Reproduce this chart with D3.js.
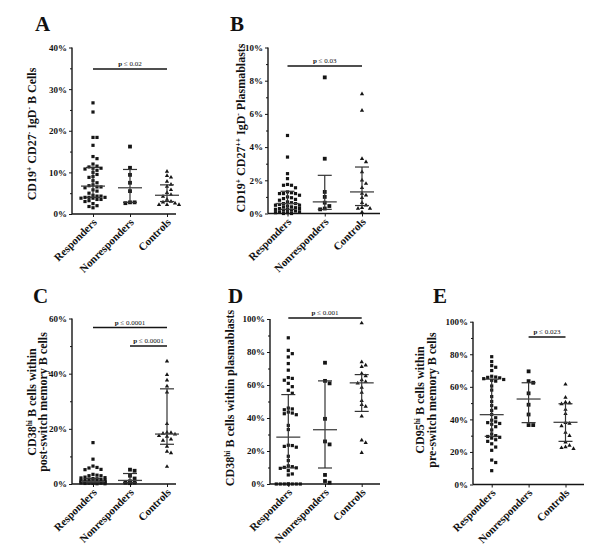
<!DOCTYPE html>
<html>
<head>
<meta charset="utf-8">
<script src="https://cdn.jsdelivr.net/npm/d3@7"></script>
<style>
  body { margin: 0; background: #fff; }
  svg { display: block; }
  text { font-family: "Liberation Serif", "Times New Roman", serif; fill: #111; }
</style>
</head>
<body>
<svg id="chart" width="600" height="550"></svg>
<script>
// ---------------- DATA ----------------
const categories = ["Responders", "Nonresponders", "Controls"];

// Panel A: CD19+ CD27- IgD- B cells (%)
const aResp = [26.7, 24.5, 18.4, 18.4, 16.5, 13.8, 13.3, 12.0, 11.5, 11.3, 11.0, 11.0, 10.8, 10.5, 10.0, 9.5, 9.0, 8.8, 8.0, 7.5, 7.0, 6.8, 6.5, 6.5, 6.3, 5.8, 5.5, 5.0, 4.5, 4.3, 4.3, 4.0, 4.0, 4.0, 3.8, 3.8, 3.5, 3.5, 3.2, 3.0, 2.5, 2.0, 1.8, 1.5];
const aNon = [16.2, 11.1, 9.4, 7.5, 5.5, 2.8, 2.8, 2.6];
const aCtrl = [10.2, 9.2, 8.8, 7.8, 7.1, 6.6, 5.8, 5.1, 4.6, 4.2, 3.5, 3.0, 2.8, 2.6, 2.2, 2.2, 2.2];
const aMedian = [6.7, 6.3, 4.5];
const aLow = [4.0, 2.8, 3.0];
const aHigh = [11.2, 10.7, 7.0];
const aTicks = [0, 10, 20, 30, 40];
const aMinor = [5, 15, 25, 35];
const aP = ["p ≤ 0.02"];

// Panel B: CD19+ CD27++ IgD- plasmablasts (%)
const bResp = [4.7, 3.4, 2.4, 2.1, 1.75, 1.7, 1.7, 1.55, 1.3, 1.25, 1.2, 1.2, 1.2, 1.1, 1.0, 0.95, 0.9, 0.85, 0.8, 0.7, 0.65, 0.6, 0.6, 0.55, 0.5, 0.5, 0.45, 0.4, 0.4, 0.35, 0.3, 0.3, 0.25, 0.25, 0.2, 0.2, 0.15, 0.1, 0.1, 0.05, 0.05, 0.0, 0.0];
const bNon = [8.2, 3.3, 1.3, 1.0, 0.65, 0.45, 0.3, 0.25];
const bCtrl = [7.2, 6.2, 3.3, 3.1, 2.5, 2.0, 1.8, 1.55, 1.2, 1.1, 0.95, 0.65, 0.5, 0.35, 0.3, 0.3, 0.08];
const bMedian = [0.6, 0.7, 1.3];
const bLow = [0.25, 0.25, 0.48];
const bHigh = [1.34, 2.3, 2.8];
const bTicks = [0, 2, 4, 6, 8, 10];
const bMinor = [1, 3, 5, 7, 9];
const bP = ["p ≤ 0.03"];

// Panel C: CD38hi B cells within post-switch memory B cells (%)
const cResp = [15.0, 9.0, 6.5, 6.0, 5.8, 5.3, 5.2, 3.5, 3.2, 3.0, 3.0, 2.5, 2.3, 2.2, 2.0, 1.9, 1.8, 1.7, 1.5, 1.4, 1.3, 1.2, 1.1, 1.0, 1.0, 0.9, 0.9, 0.8, 0.8, 0.7, 0.7, 0.6, 0.6, 0.5, 0.5, 0.4, 0.4, 0.3, 0.3, 0.2, 0.2, 0.1, 0.1];
const cNon = [5.2, 4.8, 3.0, 2.0, 1.0, 0.5, 0.5, 0.3];
const cCtrl = [44.5, 39.6, 37.6, 35.4, 33.3, 21.8, 18.7, 18.6, 18.3, 18.0, 17.5, 17.2, 16.2, 15.8, 13.6, 11.8, 11.2, 6.3];
const cMedian = [0.9, 1.3, 18.1];
const cLow = [0.5, 0.5, 14.4];
const cHigh = [2.0, 3.8, 34.5];
const cTicks = [0, 20, 40, 60];
const cMinor = [10, 30, 50];
const cP = ["p ≤ 0.0001", "p ≤ 0.0001"];

// Panel D: CD38hi B cells within plasmablasts (%)
const dResp = [88.6, 81, 79, 77, 73, 69, 64.5, 64, 62.9, 61, 59, 56.8, 55, 46, 45.5, 45, 43.6, 43, 42.6, 42, 35.5, 33, 23.5, 23.3, 22.8, 22.3, 16.8, 14.2, 11, 10.5, 10.1, 9.8, 9.5, 8.1, 6.1, 5.5, 0, 0, 0, 0, 0, 0, 0, 0];
const dNon = [73.5, 62.5, 61, 39.5, 25.8, 24, 5.5, 1.8, 0.8];
const dCtrl = [97.5, 74, 72, 71, 67, 65.5, 63, 62, 61, 58.5, 55.5, 50.5, 48, 47, 41, 26.5, 25, 19];
const dMedian = [28.4, 32.9, 61.3];
const dLow = [9.8, 9.7, 44];
const dHigh = [54.2, 62.5, 66.3];
const dTicks = [0, 20, 40, 60, 80, 100];
const dMinor = [10, 30, 50, 70, 90];
const dP = ["p ≤ 0.001"];

// Panel E: CD95hi B cells within pre-switch memory B cells (%)
const eResp = [78.5, 75.5, 73, 72, 70, 66.5, 66, 65.8, 65.5, 65, 64.5, 64, 63.5, 60.5, 58, 54, 51, 48.5, 47, 45.5, 43, 41, 39.5, 38.5, 38, 37.5, 37, 35.5, 33.5, 31, 30, 29.5, 29, 28.5, 27.5, 26.5, 25, 23, 21, 15, 13.5, 8.5];
const eNon = [69.5, 63.5, 62.5, 56, 49, 43, 36.5, 36.5];
const eCtrl = [61.5, 53.5, 50.5, 50, 49.5, 46, 43.5, 38, 37.5, 36, 32, 30, 26, 24, 23, 22.5, 22];
const eMedian = [42.9, 52.5, 38.2];
const eLow = [29.6, 38, 26.5];
const eHigh = [64.7, 62.5, 49.6];
const eTicks = [0, 20, 40, 60, 80, 100];
const eMinor = [10, 30, 50, 70, 90];
const eP = ["p ≤ 0.023"];

// ---------------- LAYOUT ----------------
const panels = [
  { letter: "A", lx: 35, ly: 31, ax: 72, y0: 214, yTop: 47.5, c0: 93, c2: 167, xEnd: 176,
    groups: [aResp, aNon, aCtrl], med: aMedian, lo: aLow, hi: aHigh, ticks: aTicks, minor: aMinor,
    pvals: aP, pLines: [{ y: 69, from: 0, to: 2 }],
    title: [[["CD19", 0], ["+", 1], [" CD27", 0], ["-", 1], [" IgD", 0], ["-", 1], [" B Cells", 0]]], tx: 36, ty: 134 },
  { letter: "B", lx: 230, ly: 31, ax: 268, y0: 213.5, yTop: 47.5, c0: 287.5, c2: 362, xEnd: 380,
    groups: [bResp, bNon, bCtrl], med: bMedian, lo: bLow, hi: bHigh, ticks: bTicks, minor: bMinor,
    pvals: bP, pLines: [{ y: 66, from: 0, to: 2 }],
    title: [[["CD19", 0], ["+", 1], [" CD27", 0], ["++", 1], [" IgD", 0], ["-", 1], [" Plasmablasts", 0]]], tx: 245, ty: 128 },
  { letter: "C", lx: 33, ly: 303, ax: 72, y0: 484, yTop: 318.5, c0: 93, c2: 167, xEnd: 176,
    groups: [cResp, cNon, cCtrl], med: cMedian, lo: cLow, hi: cHigh, ticks: cTicks, minor: cMinor,
    pvals: cP, pLines: [{ y: 327.5, from: 0, to: 2 }, { y: 346, from: 1, to: 2 }],
    title: [[["CD38", 0], ["hi", 1], [" B cells within", 0]], [["post-switch memory B cells", 0]]], tx: 41.5, ty: 402 },
  { letter: "D", lx: 228, ly: 303, ax: 270, y0: 484, yTop: 319, c0: 288.3, c2: 361.7, xEnd: 380,
    groups: [dResp, dNon, dCtrl], med: dMedian, lo: dLow, hi: dHigh, ticks: dTicks, minor: dMinor,
    pvals: dP, pLines: [{ y: 318, from: 0, to: 2 }],
    title: [[["CD38", 0], ["hi", 1], [" B cells within plasmablasts", 0]]], tx: 234, ty: 398 },
  { letter: "E", lx: 433, ly: 303, ax: 473, y0: 484.5, yTop: 321.7, c0: 491.7, c2: 565.5, xEnd: 584,
    groups: [eResp, eNon, eCtrl], med: eMedian, lo: eLow, hi: eHigh, ticks: eTicks, minor: eMinor,
    pvals: eP, pLines: [{ y: 337, from: 1, to: 2 }],
    title: [[["CD95", 0], ["hi", 1], [" B cells within", 0]], [["pre-switch memory B cells", 0]]], tx: 430, ty: 400 }
];

const svg = d3.select("#chart");
const ink = "#151515";

// beeswarm-like horizontal dodge, limited to a maximum half width
function dodge(values, y, cx, step, minD, maxHalf) {
  const pts = values.map(v => ({ v, y: y(v) })).sort((a, b) => a.y - b.y);
  const placed = [];
  const nMax = Math.floor(maxHalf / step);
  const cands = [0];
  for (let k = 1; k <= nMax; k++) { cands.push(k * step, -k * step); }
  for (const p of pts) {
    let best = null, bestD = -1;
    for (const off of cands) {
      const x = cx + off;
      let dmin = Infinity;
      for (const q of placed) dmin = Math.min(dmin, Math.hypot(q.x - x, q.y - p.y));
      if (dmin >= minD) { best = x; bestD = Infinity; break; }
      if (dmin > bestD + 0.01) { bestD = dmin; best = x; }
    }
    p.x = best;
    placed.push(p);
  }
  return placed;
}

panels.forEach(P => {
  const g = svg.append("g");
  const max = P.ticks[P.ticks.length - 1];
  const y = d3.scaleLinear().domain([0, max]).range([P.y0, P.yTop]);
  const x = d3.scalePoint().domain(categories).range([P.c0, P.c2]);

  // panel letter
  g.append("text").attr("x", P.lx).attr("y", P.ly)
    .style("font-size", "21px").style("font-weight", "bold").text(P.letter);

  // y axis (major)
  const yAx = g.append("g").attr("transform", `translate(${P.ax},0)`)
    .call(d3.axisLeft(y).tickValues(P.ticks).tickFormat(d => d + "%").tickSize(3).tickPadding(2));
  yAx.select(".domain").attr("stroke", ink).attr("stroke-width", 1.4).attr("d", `M0,${P.y0}V${P.yTop}`);
  yAx.selectAll(".tick line").attr("stroke", ink).attr("stroke-width", 1);
  yAx.selectAll(".tick text").style("font-family", "'Liberation Serif', serif")
    .style("font-size", "9px").style("font-weight", "bold").attr("fill", ink);
  // minor ticks
  const yMin = g.append("g").attr("transform", `translate(${P.ax},0)`)
    .call(d3.axisLeft(y).tickValues(P.minor).tickFormat("").tickSize(2));
  yMin.select(".domain").remove();
  yMin.selectAll(".tick line").attr("stroke", ink).attr("stroke-width", 1);

  // x axis
  const xAx = g.append("g").attr("transform", `translate(0,${P.y0})`)
    .call(d3.axisBottom(x).tickSize(3).tickPadding(4));
  xAx.select(".domain").attr("stroke", ink).attr("stroke-width", 1.4).attr("d", `M${P.ax},0H${P.xEnd}`);
  xAx.selectAll(".tick line").attr("stroke", ink).attr("stroke-width", 1);
  xAx.selectAll(".tick text")
    .style("font-family", "'Liberation Serif', serif").style("font-size", "11px").style("font-weight", "bold")
    .attr("fill", ink)
    .attr("text-anchor", "end").attr("dy", null).attr("y", 0)
    .attr("transform", "translate(4,9) rotate(-45)");

  // y title
  const lines = P.title;
  lines.forEach((ln, i) => {
    const off = (i - (lines.length - 1) / 2) * 11.5;
    const t = g.append("text")
      .attr("transform", `translate(${P.tx + off},${P.ty}) rotate(-90)`)
      .attr("text-anchor", "middle")
      .style("font-size", "12px").style("font-weight", "bold");
    ln.forEach(([s, sup]) => {
      const ts = t.append("tspan").text(s);
      if (sup) ts.attr("baseline-shift", "super").style("font-size", "7.5px");
    });
  });

  // data points
  const markers = ["sq", "sqL", "tri"];
  const halfW = [15, 9, 12];
  P.groups.forEach((vals, gi) => {
    const cx = x(categories[gi]);
    const pts = dodge(vals, y, cx, gi === 1 ? 4.6 : 4.0, gi === 1 ? 4.4 : 3.9, halfW[gi]);
    if (markers[gi] === "tri") {
      g.selectAll(null).data(pts).join("path")
        .attr("d", d3.symbol(d3.symbolTriangle, 8))
        .attr("transform", d => `translate(${d.x},${d.y})`)
        .attr("fill", ink);
    } else {
      const s = gi === 1 ? 3.8 : 3.2;
      g.selectAll(null).data(pts).join("rect")
        .attr("x", d => d.x - s / 2).attr("y", d => d.y - s / 2)
        .attr("width", s).attr("height", s).attr("fill", ink);
    }
  });

  // median + interquartile bars
  categories.forEach((c, i) => {
    const cx = x(c);
    g.append("line").attr("x1", cx).attr("x2", cx).attr("y1", y(P.lo[i])).attr("y2", y(P.hi[i]))
      .attr("stroke", "#333").attr("stroke-width", 1.2);
    [P.lo[i], P.hi[i]].forEach(v => {
      g.append("line").attr("x1", cx - 7).attr("x2", cx + 7).attr("y1", y(v)).attr("y2", y(v))
        .attr("stroke", "#333").attr("stroke-width", 1.2);
    });
    g.append("line").attr("x1", cx - 12).attr("x2", cx + 12).attr("y1", y(P.med[i])).attr("y2", y(P.med[i]))
      .attr("stroke", "#444").attr("stroke-width", 1.3);
  });

  // significance lines
  P.pLines.forEach((pl, i) => {
    const x1 = x(categories[pl.from]), x2 = x(categories[pl.to]);
    g.append("line").attr("x1", x1).attr("x2", x2).attr("y1", pl.y).attr("y2", pl.y)
      .attr("stroke", ink).attr("stroke-width", 1.3);
    const parts = P.pvals[i].split(" ");
    const t = g.append("text").attr("x", (x1 + x2) / 2).attr("y", pl.y - 3)
      .attr("text-anchor", "middle").style("font-size", "7px");
    t.append("tspan").style("font-weight", "bold").text(parts[0]);
    t.append("tspan").text(" " + parts.slice(1).join(" "));
  });
});
</script>
</body>
</html>
